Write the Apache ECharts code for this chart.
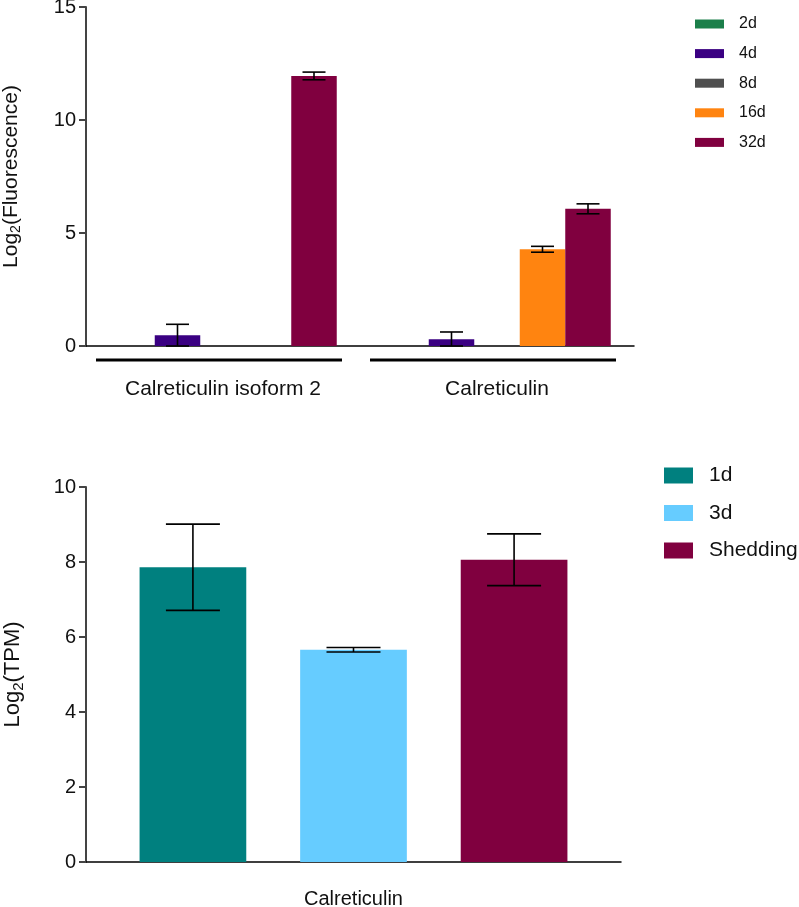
<!DOCTYPE html>
<html>
<head>
<meta charset="utf-8">
<script src="https://cdn.jsdelivr.net/npm/echarts@6/dist/echarts.min.js"></script>
<style>
html,body{margin:0;padding:0;background:#fff;}
#c{width:799px;height:907px;}
</style>
</head>
<body>
<div id="c"></div>
<script>
// ---- Top chart data ----
const topCategories = ['Calreticulin isoform 2', 'Calreticulin'];
const topSeriesNames = ['2d', '4d', '8d', '16d', '32d'];
const top2d = [null, null];
const top4d = [0.48, 0.30];
const top8d = [null, null];
const top16d = [null, 4.28];
const top32d = [11.95, 6.07];
const top2dErr = [null, null];
const top4dErr = [0.48, 0.32];
const top8dErr = [null, null];
const top16dErr = [null, 0.13];
const top32dErr = [0.17, 0.22];
const topYTicks = [0, 5, 10, 15];

// ---- Bottom chart data ----
const botCategories = ['Calreticulin'];
const botSeriesNames = ['1d', '3d', 'Shedding'];
const bot1d = [7.86];
const bot3d = [5.66];
const botShed = [8.06];
const bot1dErr = [1.15];
const bot3dErr = [0.06];
const botShedErr = [0.69];
const botYTicks = [0, 2, 4, 6, 8, 10];

const FONT = 'Liberation Sans, Arial, sans-serif';
const topColors = ['#1b7f4a', '#3a0082', '#4f4f4f', '#ff8410', '#80003f'];
const botColors = ['#00807f', '#66ccff', '#80003f'];

const topVals = [top2d, top4d, top8d, top16d, top32d];
const topErrs = [top2dErr, top4dErr, top8dErr, top16dErr, top32dErr];
const botVals = [bot1d, bot3d, botShed];
const botErrs = [bot1dErr, bot3dErr, botShedErr];

const TOP_BW = 45.5;
const BOT_BW = 106.7;
const BOT_GAP = 0.505;

function errSeries(xi, yi, vals, errs, offset, capHalf) {
  const data = [];
  vals.forEach((v, i) => { if (v != null && errs[i] != null) data.push([i, v, errs[i]]); });
  return {
    type: 'custom', xAxisIndex: xi, yAxisIndex: yi, z: 10, silent: true,
    data: data, encode: { x: 0, y: 1 },
    renderItem: function (params, api) {
      const c = api.value(0), v = api.value(1), e = api.value(2);
      const hi = api.coord([c, v + e]);
      const lo = api.coord([c, Math.max(v - e, 0)]);
      const x = hi[0] + offset;
      const st = { stroke: '#000', lineWidth: 1.6 };
      return {
        type: 'group', children: [
          { type: 'line', shape: { x1: x, y1: hi[1], x2: x, y2: lo[1] }, style: st },
          { type: 'line', shape: { x1: x - capHalf, y1: hi[1], x2: x + capHalf, y2: hi[1] }, style: st },
          { type: 'line', shape: { x1: x - capHalf, y1: lo[1], x2: x + capHalf, y2: lo[1] }, style: st }
        ]
      };
    }
  };
}

const series = [];
topSeriesNames.forEach((n, i) => {
  series.push({
    name: n, type: 'bar', xAxisIndex: 0, yAxisIndex: 0,
    data: topVals[i].map(v => v == null ? '-' : v),
    barWidth: TOP_BW, barGap: '0%',
    itemStyle: { color: topColors[i] }
  });
});
topSeriesNames.forEach((n, i) => {
  series.push(errSeries(0, 0, topVals[i], topErrs[i], (i - 2) * TOP_BW, 11.5));
});
// group underline brackets under top categories
series.push({
  type: 'custom', xAxisIndex: 0, yAxisIndex: 0, silent: true, clip: false,
  data: topCategories.map((c, i) => [i, 0]), encode: { x: 0, y: 1 },
  renderItem: function (params, api) {
    const p = api.coord([api.value(0), 0]);
    return { type: 'line', shape: { x1: p[0] - 127, y1: p[1] + 14, x2: p[0] + 119, y2: p[1] + 14 },
      style: { stroke: '#000', lineWidth: 3 } };
  }
});
botSeriesNames.forEach((n, i) => {
  series.push({
    name: n, type: 'bar', xAxisIndex: 1, yAxisIndex: 1,
    data: botVals[i], barWidth: BOT_BW, barGap: (BOT_GAP * 100) + '%',
    itemStyle: { color: botColors[i] }
  });
});
botSeriesNames.forEach((n, i) => {
  series.push(errSeries(1, 1, botVals[i], botErrs[i], (i - 1) * BOT_BW * (1 + BOT_GAP), 27));
});

const yAxisCommon = {
  type: 'value', min: 0, splitLine: { show: false },
  axisLine: { show: true, lineStyle: { color: '#444', width: 2 } },
  axisTick: { show: true, length: 7, lineStyle: { color: '#444', width: 2 } },
  axisLabel: { fontFamily: FONT, fontSize: 20, color: '#111', margin: 10 },
  nameLocation: 'middle', nameRotate: 90
};

function nameStyle(big, sub) {
  return { fontFamily: FONT, color: '#111',
    rich: { a: { fontFamily: FONT, fontSize: big, color: '#111', lineHeight: 26 },
            s: { fontFamily: FONT, fontSize: sub, color: '#111', lineHeight: 26, padding: [11, 0, 0, 0] } } };
}

const option = {
  animation: false,
  backgroundColor: '#fff',
  grid: [
    { left: 86, top: 7, width: 548, height: 339, containLabel: false, outerBoundsMode: 'none' },
    { left: 86, top: 487, width: 535, height: 375, containLabel: false, outerBoundsMode: 'none' }
  ],
  legend: [
    {
      data: topSeriesNames, orient: 'vertical', left: 695, top: 16, padding: 0,
      itemWidth: 29, itemHeight: 9, itemGap: 13.6, icon: 'rect',
      textStyle: { fontFamily: FONT, fontSize: 16, color: '#111', lineHeight: 16, padding: [0, 0, 0, 10] },
      selectedMode: false
    },
    {
      data: botSeriesNames, orient: 'vertical', left: 664, top: 465, padding: 0,
      itemWidth: 29, itemHeight: 16, itemGap: 16.5, icon: 'rect',
      textStyle: { fontFamily: FONT, fontSize: 21, color: '#111', lineHeight: 20, padding: [0, 0, 0, 11] },
      selectedMode: false
    }
  ],
  xAxis: [
    {
      type: 'category', gridIndex: 0, data: topCategories,
      axisLine: { lineStyle: { color: '#000', width: 1.5 } },
      axisTick: { show: false },
      axisLabel: { fontFamily: FONT, fontSize: 21, color: '#111', margin: 33 }
    },
    {
      type: 'category', gridIndex: 1, data: botCategories,
      axisLine: { lineStyle: { color: '#000', width: 1.5 } },
      axisTick: { show: false },
      axisLabel: { fontFamily: FONT, fontSize: 20, color: '#111', margin: 27 }
    }
  ],
  yAxis: [
    Object.assign({}, yAxisCommon, {
      gridIndex: 0, max: topYTicks[topYTicks.length - 1], interval: topYTicks[1] - topYTicks[0],
      name: '{a|Log}{s|2}{a|(Fluorescence)}', nameGap: 62,
      nameTextStyle: nameStyle(21, 14)
    }),
    Object.assign({}, yAxisCommon, {
      gridIndex: 1, max: botYTicks[botYTicks.length - 1], interval: botYTicks[1] - botYTicks[0],
      name: '{a|Log}{s|2}{a|(TPM)}', nameGap: 60,
      nameTextStyle: nameStyle(22, 15)
    })
  ],
  series: series
};

const chart = echarts.init(document.getElementById('c'), null, { renderer: 'canvas' });
chart.setOption(option);
</script>
</body>
</html>
